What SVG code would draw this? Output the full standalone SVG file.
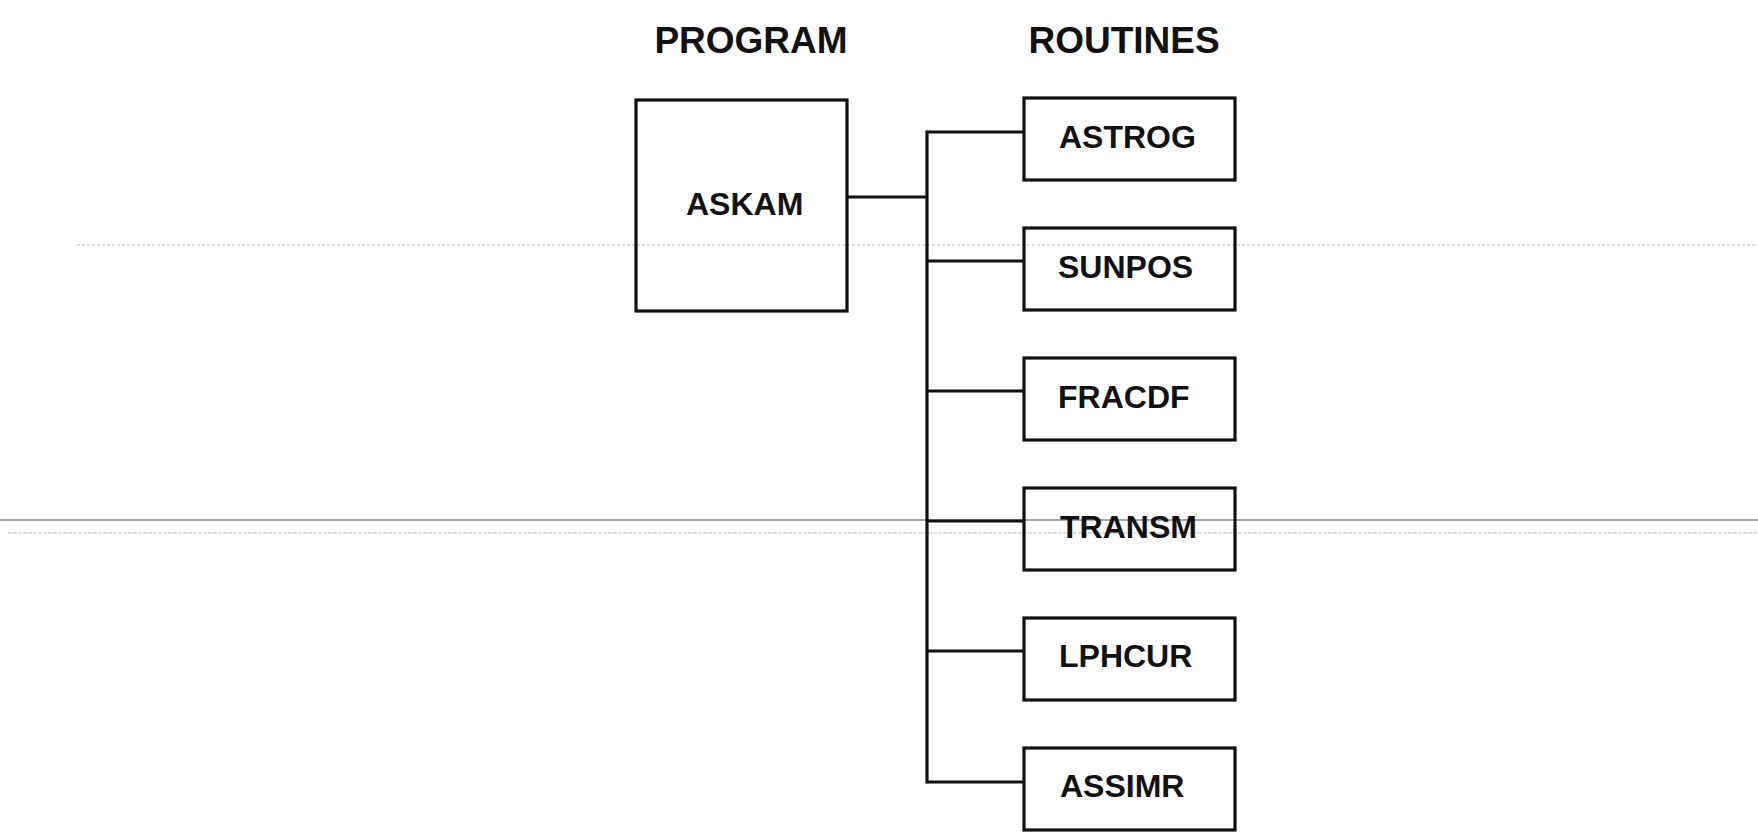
<svg xmlns="http://www.w3.org/2000/svg" width="1758" height="837" viewBox="0 0 1758 837">
<style>
.box{fill:none;stroke:#111;stroke-width:3.2}
.lbl{font-family:"Liberation Sans",Arial,sans-serif;font-weight:bold;font-size:32px;fill:#111}
.ttl{font-family:"Liberation Sans",Arial,sans-serif;font-weight:bold;font-size:37px;fill:#111;text-anchor:middle}
.conn{fill:none;stroke:#111;stroke-width:3.2}
</style>
<rect width="1758" height="837" fill="#fff"/>
<g id="scan-artifacts">
<line x1="77" y1="245" x2="1758" y2="245" stroke="#bbb" stroke-width="1" stroke-dasharray="3 2"/>
<line x1="0" y1="520" x2="1758" y2="520" stroke="#888" stroke-width="1.5"/>
<line x1="8" y1="533" x2="1758" y2="533" stroke="#bbb" stroke-width="1" stroke-dasharray="4 1"/>
</g>
<g id="titles">
<text class="ttl" x="751" y="53">PROGRAM</text>
<text class="ttl" x="1124" y="53">ROUTINES</text>
</g>
<g id="connectors">
<line class="conn" x1="847" y1="197" x2="927" y2="197"/>
<line class="conn" x1="927" y1="130.5" x2="927" y2="783.5"/>
<line class="conn" x1="927" y1="132" x2="1024" y2="132"/>
<line class="conn" x1="927" y1="261" x2="1024" y2="261"/>
<line class="conn" x1="927" y1="391" x2="1024" y2="391"/>
<line class="conn" x1="927" y1="521" x2="1024" y2="521"/>
<line class="conn" x1="927" y1="651" x2="1024" y2="651"/>
<line class="conn" x1="927" y1="782" x2="1024" y2="782"/>
</g>
<g id="ASKAM">
<rect class="box" x="636" y="100" width="211" height="211"/>
<text class="lbl" x="686" y="215">ASKAM</text>
</g>
<g id="ASTROG">
<rect class="box" x="1024" y="98" width="211" height="82"/>
<text class="lbl" x="1059" y="148">ASTROG</text>
</g>
<g id="SUNPOS">
<rect class="box" x="1024" y="228" width="211" height="82"/>
<text class="lbl" x="1058" y="278">SUNPOS</text>
</g>
<g id="FRACDF">
<rect class="box" x="1024" y="358" width="211" height="82"/>
<text class="lbl" x="1058" y="408">FRACDF</text>
</g>
<g id="TRANSM">
<rect class="box" x="1024" y="488" width="211" height="82"/>
<text class="lbl" x="1060" y="538">TRANSM</text>
</g>
<g id="LPHCUR">
<rect class="box" x="1024" y="618" width="211" height="82"/>
<text class="lbl" x="1059" y="667">LPHCUR</text>
</g>
<g id="ASSIMR">
<rect class="box" x="1024" y="748" width="211" height="82"/>
<text class="lbl" x="1060" y="797">ASSIMR</text>
</g>
</svg>
